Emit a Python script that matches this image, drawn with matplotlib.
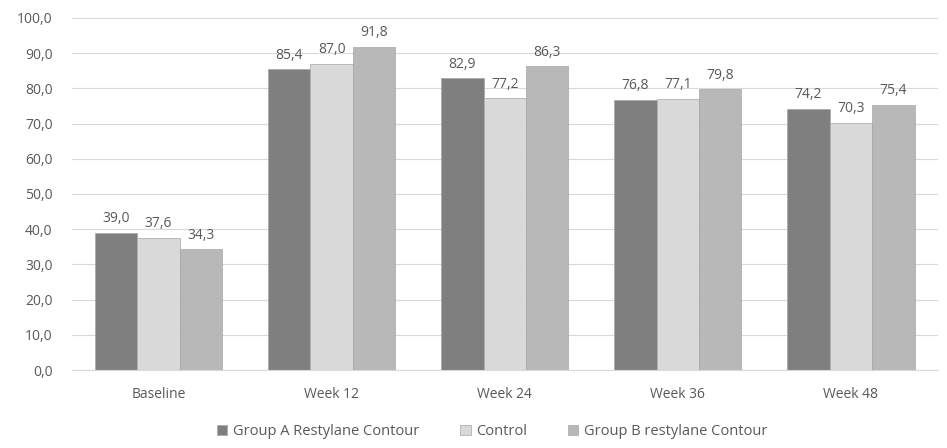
import matplotlib.pyplot as plt
import numpy as np

categories = ["Baseline", "Week 12", "Week 24", "Week 36", "Week 48"]
group_a = [39.0, 85.4, 82.9, 76.8, 74.2]
control = [37.6, 87.0, 77.2, 77.1, 70.3]
group_b = [34.3, 91.8, 86.3, 79.8, 75.4]
series_names = ["Group A Restylane Contour", "Control", "Group B restylane Contour"]
colors = ["#7f7f7f", "#d9d9d9", "#b8b8b8"]

plt.rcParams['font.family'] = ['Open Sans', 'DejaVu Sans']
text_color = "#595959"

fig = plt.figure(figsize=(9.47, 4.48), dpi=100)
ax = fig.add_axes([0.076, 0.174, 0.914, 0.786])

x = np.arange(len(categories))
width = 0.245
for i, (vals, name, c) in enumerate(zip([group_a, control, group_b], series_names, colors)):
    pos = x + (i - 1) * width
    bars = ax.bar(pos, vals, width, color=c, label=name, edgecolor="#a6a6a6", linewidth=0.5)
    for b, v in zip(bars, vals):
        ax.text(b.get_x() + b.get_width() / 2, v + 1.8, f"{v:.1f}".replace(".", ","),
                ha="center", va="bottom", fontsize=10, color=text_color)

ax.set_xlim(-0.5, len(categories) - 0.5)
ax.set_ylim(0, 100)
ax.set_yticks(np.arange(0, 101, 10))
ax.set_yticklabels([f"{t:.1f}".replace(".", ",") for t in np.arange(0, 101, 10)])
ax.set_xticks(x)
ax.set_xticklabels(categories)
ax.tick_params(axis="both", length=0, colors=text_color, labelsize=10)
ax.tick_params(axis="y", pad=14)
ax.tick_params(axis="x", pad=12)
ax.yaxis.grid(True, color="#d9d9d9", linewidth=0.8)
ax.set_axisbelow(True)
for s in ["top", "right", "left"]:
    ax.spines[s].set_visible(False)
ax.spines["bottom"].set_color("#d9d9d9")

fig.legend(loc="lower center", bbox_to_anchor=(0.52, -0.01), ncol=3, frameon=False,
           fontsize=10.5, labelcolor=text_color, handlelength=0.7, handleheight=0.7,
           handletextpad=0.4, columnspacing=2.8)

fig.savefig("out.png", dpi=100)
